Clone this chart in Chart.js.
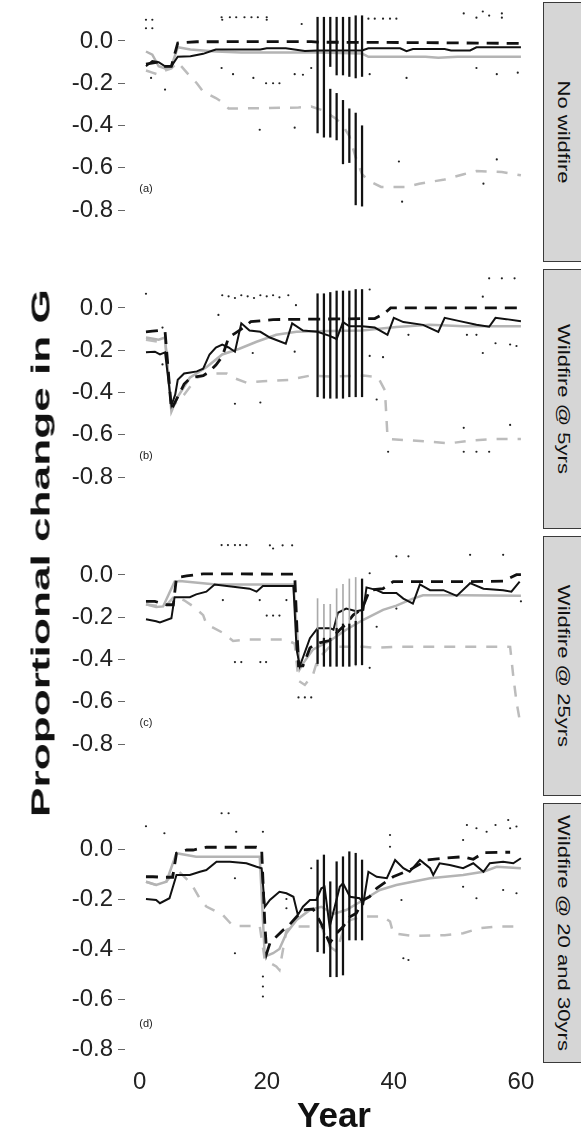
<!DOCTYPE html>
<html>
<head>
<meta charset="utf-8">
<script src="https://cdn.jsdelivr.net/npm/chart.js@4.4.0/dist/chart.umd.min.js"></script>
<style>
body { margin: 0; background: #fff; width: 581px; height: 1137px; overflow: hidden; position: relative; font-family: "Liberation Sans", Arial, sans-serif; }
canvas { position: absolute; left: 0; }
.strip { position: absolute; left: 543px; width: 46px; height: 260px; background: #d6d6d6; border: 1px solid #3a3a3a; box-sizing: border-box; }
.strip span { position: absolute; left: 19px; top: 50%; white-space: nowrap; font-size: 16px; color: #111; transform: translate(-50%, -50%) rotate(90deg) scaleX(1.38); }
#ytitle { position: absolute; left: 41px; top: 553px; white-space: nowrap; font-size: 26px; font-weight: bold; color: #111; transform: translate(-50%, -50%) rotate(-90deg) scaleX(1.7); }
#xtitle { position: absolute; left: 334px; top: 1115px; white-space: nowrap; font-size: 35px; font-weight: bold; color: #111; transform: translate(-50%, -50%); }
</style>
</head>
<body>
<canvas id="panelA" width="543" height="300"></canvas>
<canvas id="panelB" width="543" height="300"></canvas>
<canvas id="panelC" width="543" height="300"></canvas>
<canvas id="panelD" width="543" height="320"></canvas>
<div class="strip" style="top:2px"><span>No wildfire</span></div>
<div class="strip" style="top:269px"><span>Wildfire @ 5yrs</span></div>
<div class="strip" style="top:536px"><span>Wildfire @ 25yrs</span></div>
<div class="strip" style="top:803px"><span>Wildfire @ 20 and 30yrs</span></div>
<div id="ytitle">Proportional change in G</div>
<div id="xtitle">Year</div>
<script>
const yTicks = [0, -0.2, -0.4, -0.6, -0.8];
const xTicks = [0, 20, 40, 60];
const errYears = [28, 29, 30, 31, 32, 33, 34, 35];

// panel (a) No wildfire
const aBlackSolid = [[1,-0.12],[2,-0.095],[3,-0.1],[4,-0.12],[5,-0.12],[6,-0.075],[8,-0.072],[10,-0.061],[11.5,-0.045],[12,-0.041],[19,-0.041],[20,-0.035],[23,-0.035],[26,-0.048],[28,-0.045],[35,-0.045],[36,-0.035],[41,-0.035],[42,-0.048],[43,-0.038],[48,-0.038],[49,-0.045],[52,-0.045],[53,-0.03],[60,-0.03]];
const aBlackDashed = [[1,-0.11],[3,-0.1],[4,-0.12],[5,-0.12],[6,-0.01],[9,-0.004],[27,-0.003],[28,-0.006],[45,-0.008],[60,-0.012]];
const aGraySolid = [[1,-0.05],[2,-0.065],[3,-0.12],[4,-0.13],[5,-0.12],[6,-0.03],[8,-0.04],[12,-0.05],[16,-0.055],[28,-0.055],[35,-0.06],[36,-0.075],[45,-0.075],[47,-0.08],[50,-0.075],[60,-0.075]];
const aGrayDashed = [[1,-0.14],[2,-0.15],[3,-0.16],[4,-0.14],[5,-0.13],[6,-0.1],[8,-0.17],[9,-0.2],[10,-0.24],[12,-0.27],[13,-0.29],[14,-0.32],[25,-0.315],[27,-0.31],[29,-0.33],[31,-0.37],[32,-0.4],[33,-0.45],[34,-0.55],[35,-0.63],[36,-0.66],[38,-0.69],[42,-0.69],[44,-0.675],[48,-0.655],[51,-0.63],[53,-0.615],[57,-0.62],[60,-0.635]];
const aErrHi = [0.112,0.112,0.112,0.112,0.112,0.112,0.119,0.119];
const aErrLo = [-0.435,-0.455,-0.121,-0.161,-0.161,-0.168,-0.175,-0.168];
const aErr2Hi = [null,null,-0.228,-0.248,-0.281,-0.321,-0.341,-0.401];
const aErr2Lo = [null,null,-0.455,-0.468,-0.581,-0.575,-0.775,-0.781];
const aDots = [[1,0.1],[2,0.1],[1,0.06],[2,0.06],[12.9,0.112],[14.2,0.112],[15.2,0.112],[16.5,0.112],[17.6,0.112],[18.6,0.112],[20,0.112],[13,0.1],[20,0.1],[25.5,0.08],[36,0.105],[37,0.105],[38.3,0.105],[39.4,0.105],[40.4,0.105],[51,0.13],[53,0.11],[54,0.139],[55,0.12],[57,0.13],[57,0.11],[12.9,-0.128],[14.7,-0.157],[17.9,-0.175],[19.9,-0.2],[21,-0.2],[22,-0.2],[24.4,-0.157],[25.7,-0.16],[27,-0.128],[36.2,-0.157],[42,-0.175],[53,-0.128],[56.2,-0.157],[59.5,-0.15],[1.8,-0.175],[4,-0.23],[18.9,-0.42],[24.4,-0.41],[40.8,-0.57],[56.2,-0.56],[54.1,-0.675],[41.3,-0.76]];

// panel (b) Wildfire @ 5yrs
const bBlackSolid = [[1,-0.21],[2.4,-0.207],[3.2,-0.22],[4,-0.21],[5,-0.46],[5.6,-0.41],[6,-0.34],[7,-0.31],[8,-0.305],[9,-0.3],[10,-0.287],[11,-0.22],[12,-0.187],[13,-0.173],[14,-0.187],[15,-0.207],[16,-0.073],[17.3,-0.107],[19,-0.113],[20.5,-0.14],[23,-0.169],[24,-0.073],[25.7,-0.107],[28,-0.113],[30,-0.133],[31,-0.147],[32,-0.067],[33,-0.087],[35,-0.087],[37,-0.093],[39,-0.127],[40,-0.047],[41.5,-0.067],[44.6,-0.08],[47,-0.113],[48,-0.047],[50,-0.06],[53,-0.08],[55,-0.089],[56,-0.047],[57.7,-0.053],[60,-0.063]];
const bBlackDashed = [[1,-0.113],[2,-0.11],[3,-0.107],[4,-0.11],[5,-0.48],[6,-0.42],[7,-0.36],[8,-0.33],[10,-0.32],[11,-0.3],[12,-0.27],[13,-0.23],[14,-0.14],[15,-0.12],[16,-0.1],[17.5,-0.065],[21,-0.055],[37,-0.05],[38.5,-0.027],[39.5,0],[60,0]];
const bGraySolid = [[1,-0.14],[3,-0.15],[4,-0.14],[5,-0.49],[6,-0.42],[7.9,-0.33],[10.5,-0.28],[13,-0.22],[15.7,-0.193],[18.4,-0.16],[21.5,-0.127],[24.7,-0.113],[27.8,-0.11],[35,-0.107],[40.4,-0.09],[45.7,-0.08],[51,-0.087],[60,-0.087]];
const bGrayDashed = [[1,-0.15],[3,-0.16],[4,-0.15],[5,-0.47],[7,-0.41],[9,-0.33],[11,-0.31],[13.7,-0.31],[14.7,-0.33],[16.8,-0.353],[19.4,-0.347],[23.6,-0.34],[26.8,-0.32],[30,-0.324],[35.2,-0.32],[37.5,-0.327],[38.6,-0.39],[39,-0.607],[39.4,-0.62],[43,-0.627],[45.7,-0.633],[48.8,-0.64],[52,-0.627],[56,-0.62],[60,-0.62]];
const bErrHi = [0.067,0.067,0.073,0.08,0.08,0.08,0.087,0.087];
const bErrLo = [-0.42,-0.427,-0.427,-0.427,-0.427,-0.42,-0.42,-0.42];
const bDots = [[1,0.067],[13,0.06],[14,0.055],[15,0.047],[16,0.06],[17,0.055],[18,0.047],[19,0.06],[20,0.055],[21,0.06],[22,0.05],[23.4,0.06],[12.4,-0.033],[3.6,-0.093],[3.6,-0.267],[24.6,0.013],[24.4,-0.207],[17.8,-0.213],[15,-0.453],[19,-0.447],[36.2,0.087],[36.2,-0.227],[38.3,-0.233],[37.3,-0.433],[42.3,-0.127],[51.5,-0.127],[53,-0.127],[54,0.053],[55,0.14],[57,0.14],[59,0.14],[56,-0.167],[58.3,-0.173],[59.3,-0.18],[54,-0.213],[51,-0.567],[58.3,-0.553],[51,-0.68],[53,-0.68],[55,-0.68],[39.1,-0.68]];

// panel (c) Wildfire @ 25yrs
const cBlackSolid = [[1,-0.21],[2.6,-0.219],[3.2,-0.225],[5,-0.205],[5.5,-0.105],[7.9,-0.105],[8.9,-0.092],[10.5,-0.079],[11.8,-0.045],[15.7,-0.059],[17.3,-0.065],[18.4,-0.079],[19.4,-0.052],[24.2,-0.052],[24.7,-0.352],[25.2,-0.432],[26.8,-0.299],[28,-0.252],[30,-0.252],[30.5,-0.259],[31.2,-0.179],[32.5,-0.159],[34.1,-0.172],[35.2,-0.165],[35.7,-0.059],[37.3,-0.072],[38.3,-0.085],[40.4,-0.085],[41.5,-0.112],[43,-0.136],[44.1,-0.045],[45.7,-0.072],[47.8,-0.072],[49.9,-0.099],[52,-0.039],[54.1,-0.065],[57.2,-0.072],[58.5,-0.079],[59.8,-0.032]];
const cBlackDashed = [[1,-0.125],[2.4,-0.125],[4.2,-0.141],[5.3,-0.141],[5.8,-0.012],[7.4,-0.005],[10,0.005],[24.4,0.004],[25,-0.43],[25.7,-0.43],[26.8,-0.345],[27.8,-0.325],[29.9,-0.31],[31.5,-0.259],[32.5,-0.232],[33.6,-0.19],[35,-0.16],[36.2,-0.072],[38.3,-0.065],[39.9,-0.032],[52,-0.032],[57.2,-0.029],[59.3,0.001],[60,0.001]];
const cGraySolid = [[1,-0.139],[2.6,-0.152],[3.7,-0.149],[5.5,-0.032],[6.3,-0.029],[12,-0.045],[24.2,-0.045],[25.2,-0.445],[25.7,-0.419],[27.3,-0.352],[29.9,-0.312],[32.5,-0.259],[35.2,-0.212],[38.3,-0.165],[40.4,-0.145],[43,-0.112],[44.6,-0.096],[50.9,-0.096],[60,-0.099]];
const cGrayDashed = [[1,-0.14],[4,-0.15],[5.5,-0.1],[7,-0.12],[8.5,-0.15],[10,-0.19],[10.5,-0.232],[13,-0.272],[14.7,-0.312],[16.8,-0.305],[23,-0.305],[24.4,-0.325],[25,-0.5],[26,-0.52],[27.3,-0.47],[28,-0.4],[29.9,-0.339],[35.2,-0.339],[37.3,-0.345],[40.4,-0.339],[57.2,-0.339],[58.3,-0.34],[58.8,-0.48],[59.3,-0.6],[59.8,-0.685]];
const cErrHi = [-0.259,-0.299,-0.299,-0.252,-0.232,-0.232,-0.219,-0.019];
const cErrLo = [-0.419,-0.432,-0.432,-0.432,-0.432,-0.432,-0.425,-0.425];
const cErr2Hi = [-0.112,-0.139,-0.139,-0.065,-0.045,-0.019,-0.012,null];
const cErr2Lo = [-0.43,-0.43,-0.43,-0.43,-0.43,-0.43,-0.43,null];
const cDots = [[12.9,0.141],[13.9,0.141],[15,0.141],[15.8,0.141],[16.8,0.141],[20.5,0.14],[21,0.125],[22.5,0.14],[24,0.14],[13.1,-0.119],[18.9,-0.119],[23.1,-0.119],[20,-0.192],[21,-0.192],[22,-0.192],[15,-0.412],[16,-0.412],[19,-0.412],[19.9,-0.412],[25,-0.579],[26,-0.579],[27,-0.579],[36.2,0.008],[36.2,-0.439],[37.3,-0.245],[40.4,0.088],[42.3,0.088],[52,0.095],[57.2,0.095],[60,-0.125],[40.4,-0.159]];

// panel (d) Wildfire @ 20 and 30yrs
const dBlackSolid = [[1,-0.2],[2.6,-0.204],[3.2,-0.217],[4.7,-0.197],[5.8,-0.104],[7.9,-0.104],[9.5,-0.091],[10.5,-0.084],[12.1,-0.051],[14.2,-0.051],[16.8,-0.057],[18.4,-0.071],[19.2,-0.077],[19.7,-0.231],[20.5,-0.204],[22,-0.171],[23.1,-0.177],[24.2,-0.191],[24.9,-0.264],[25.7,-0.231],[26.8,-0.204],[27.8,-0.204],[28.6,-0.157],[29.1,-0.151],[29.9,-0.311],[30.7,-0.231],[31.5,-0.151],[32,-0.137],[33.1,-0.191],[34.6,-0.197],[35.2,-0.217],[36,-0.091],[37.3,-0.111],[38.9,-0.117],[40.2,-0.044],[41.5,-0.077],[42.5,-0.091],[44.1,-0.044],[45.7,-0.077],[46.2,-0.104],[47.2,-0.057],[48.8,-0.064],[50.9,-0.077],[52.5,-0.057],[54.1,-0.091],[55.1,-0.057],[57.2,-0.051],[58.8,-0.057],[60,-0.037]];
const dBlackDashed = [[1,-0.111],[2.1,-0.111],[3.7,-0.113],[5.2,-0.113],[5.8,-0.017],[7.4,-0.004],[8.4,-0.004],[10.5,0.007],[18.4,0.007],[19.2,0],[19.7,-0.3],[20,-0.417],[20.5,-0.377],[21.5,-0.351],[22.6,-0.324],[23.1,-0.317],[24.7,-0.271],[25.7,-0.244],[27.3,-0.24],[28.6,-0.3],[29.9,-0.377],[31,-0.337],[32,-0.311],[33.1,-0.271],[34.1,-0.257],[35.2,-0.204],[36.2,-0.191],[37.3,-0.157],[39.9,-0.111],[42.5,-0.084],[45.2,-0.044],[47.8,-0.037],[50.9,-0.031],[52.5,-0.041],[54.1,-0.015],[57.2,-0.013],[58.3,-0.013]];
const dGraySolid = [[1,-0.131],[2.6,-0.144],[4.2,-0.131],[5.8,-0.017],[8.9,-0.031],[18.9,-0.031],[19.7,-0.431],[21,-0.417],[22,-0.4],[23.1,-0.337],[24.7,-0.284],[26.8,-0.244],[28.6,-0.231],[30.5,-0.26],[32.5,-0.244],[35.2,-0.204],[37.8,-0.164],[40.4,-0.144],[45.7,-0.117],[50.9,-0.104],[54.1,-0.091],[56.2,-0.071],[60,-0.077]];
const dGrayDashed = [[1,-0.131],[2.6,-0.144],[4.2,-0.131],[5.8,-0.08],[7.4,-0.12],[8.4,-0.151],[9.5,-0.2],[10.5,-0.23],[13.1,-0.264],[14.7,-0.308],[18.9,-0.308],[19.7,-0.444],[21.5,-0.47],[22,-0.484],[23.1,-0.324],[24.2,-0.31],[28.6,-0.31],[29.9,-0.39],[31,-0.41],[32,-0.33],[33.1,-0.284],[35.2,-0.27],[38.3,-0.27],[39.4,-0.29],[39.9,-0.337],[43,-0.348],[48,-0.345],[50.9,-0.337],[53.5,-0.317],[56.2,-0.31],[60,-0.31]];
const dErrHi = [-0.044,-0.024,-0.131,-0.051,-0.031,-0.011,-0.017,-0.044];
const dErrLo = [-0.411,-0.417,-0.511,-0.511,-0.504,-0.364,-0.364,-0.364];
const dDots = [[1,0.091],[3.9,0.063],[12.9,0.143],[14,0.143],[15.2,0.069],[19.4,0.069],[15,-0.117],[23.1,-0.2],[23.1,-0.237],[15,-0.417],[19.4,-0.51],[19.4,-0.55],[19.4,-0.59],[27,-0.077],[39.4,0.056],[39.4,0.009],[51.5,0.096],[53,0.083],[54.6,0.069],[56,0.096],[58,0.116],[59.3,0.09],[58.3,0.083],[50.9,0.036],[50.9,-0.151],[53,-0.197],[57.2,-0.164],[59.3,-0.177],[41.2,-0.204],[41.5,-0.437],[42.3,-0.444]];

const tagX = 1, tagY = -0.7;

function errBars(hi, lo) {
  const out = [];
  errYears.forEach((yr, i) => {
    if (hi[i] !== null) out.push({ x: yr, y: [lo[i], hi[i]] });
  });
  return out;
}

const panelTag = {
  id: 'panelTag',
  afterDatasetsDraw(chart, args, opts) {
    const { ctx, scales } = chart;
    ctx.save();
    ctx.font = '11px "Liberation Sans", Arial, sans-serif';
    ctx.fillStyle = '#222';
    ctx.textAlign = 'center';
    ctx.textBaseline = 'middle';
    ctx.fillText(opts.text, scales.x.getPixelForValue(tagX), scales.y.getPixelForValue(tagY));
    ctx.restore();
  }
};

function drawPanel(id, top, tag, bs, bd, gs, gd, errs, dots, showX) {
  const canvas = document.getElementById(id);
  canvas.style.top = (top - 20) + 'px';
  const datasets = [];
  errs.forEach(e => datasets.push({
    type: 'bar', data: errBars(e.hi, e.lo), backgroundColor: e.color,
    barThickness: e.width, grouped: false, order: 0
  }));
  datasets.push({ data: bs, borderColor: '#111', borderWidth: 2, pointRadius: 0, order: 1 });
  datasets.push({ data: bd, borderColor: '#111', borderWidth: 2.8, borderDash: [12, 8], pointRadius: 0, order: 2 });
  datasets.push({ data: gs, borderColor: '#b4b4b4', borderWidth: 2.5, pointRadius: 0, order: 3 });
  datasets.push({ data: gd, borderColor: '#bcbcbc', borderWidth: 2.5, borderDash: [11, 10], pointRadius: 0, order: 4 });
  datasets.push({ data: dots, showLine: false, pointRadius: 1.1, pointBackgroundColor: '#222', pointBorderWidth: 0, order: 5 });

  new Chart(canvas, {
    type: 'line',
    data: { datasets },
    options: {
      responsive: false,
      animation: false,
      devicePixelRatio: 1,
      layout: { autoPadding: false, padding: { top: 20, bottom: showX ? 0 : 20, left: 0, right: 3 } },
      plugins: { legend: { display: false }, tooltip: { enabled: false }, panelTag: { text: tag } },
      scales: {
        x: {
          type: 'linear', min: -2.3, max: 63, display: showX, offset: false,
          afterBuildTicks: s => { s.ticks = xTicks.map(v => ({ value: v })); },
          afterFit: s => { s.height = 40; s.paddingLeft = 0; s.paddingRight = 0; },
          grid: { display: false, offset: false }, border: { display: false },
          ticks: { color: '#222', font: { size: 24, family: '"Liberation Sans", Arial, sans-serif' }, padding: -3, maxRotation: 0 }
        },
        y: {
          min: -0.856, max: 0.184,
          afterBuildTicks: s => { s.ticks = yTicks.map(v => ({ value: v })); },
          afterFit: s => { s.width = 125; },
          grid: { drawOnChartArea: false, drawTicks: true, tickLength: 7, color: '#666' },
          border: { display: false },
          ticks: { color: '#222', padding: 5, font: { size: 24, family: '"Liberation Sans", Arial, sans-serif' }, callback: v => v.toFixed(1) }
        }
      }
    },
    plugins: [panelTag]
  });
}

drawPanel('panelA', 2, '(a)', aBlackSolid, aBlackDashed, aGraySolid, aGrayDashed,
  [{ hi: aErrHi, lo: aErrLo, color: '#111', width: 1.6 }, { hi: aErr2Hi, lo: aErr2Lo, color: '#111', width: 1.6 }], aDots, false);
drawPanel('panelB', 269, '(b)', bBlackSolid, bBlackDashed, bGraySolid, bGrayDashed,
  [{ hi: bErrHi, lo: bErrLo, color: '#111', width: 1.6 }], bDots, false);
drawPanel('panelC', 536, '(c)', cBlackSolid, cBlackDashed, cGraySolid, cGrayDashed,
  [{ hi: cErrHi, lo: cErrLo, color: '#111', width: 1.6 }, { hi: cErr2Hi, lo: cErr2Lo, color: '#aaa', width: 1 }], cDots, false);
drawPanel('panelD', 803, '(d)', dBlackSolid, dBlackDashed, dGraySolid, dGrayDashed,
  [{ hi: dErrHi, lo: dErrLo, color: '#111', width: 1.6 }], dDots, true);
</script>
</body>
</html>
